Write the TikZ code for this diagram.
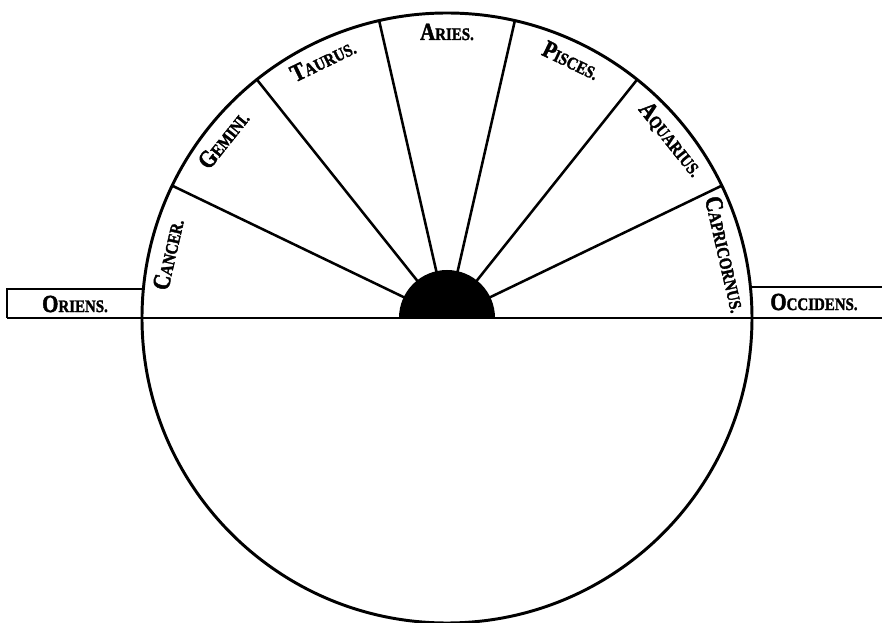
\documentclass[tikz,border=0pt]{standalone}
\usepackage{graphicx}
\usepackage{fontspec}
\setmainfont{Liberation Serif}[BoldFeatures={FakeBold=2}]
\tikzset{
  kor/.style={line width=2.1pt},
  sugar/.style={line width=1.8pt},
  vonal/.style={line width=1.5pt},
  jegy/.style={inner sep=0pt,font=\bfseries},
}
\newcommand{\jel}[2]{\scalebox{0.85}[1]{\bfseries\fontsize{17.5}{17}\selectfont #1\fontsize{12.5}{13}\selectfont #2}}

\begin{document}
\begin{tikzpicture}[x=0.025cm,y=0.025cm]
  \useasboundingbox (-447,-305) rectangle (435,318);
  % kor es horizont
  \draw[kor] (0,0) circle[radius=305];
  \draw[vonal] (-440,0) -- (435,0);
  \draw[vonal] (-305,29) -- (-440,29) -- (-440,0);
  \draw[vonal] (305,31) -- (435,31);
  \node[jegy] (oriens) at (-372,14) {\jel{O}{RIENS.}};
  \node[jegy] (occidens) at (367,16) {\jel{O}{CCIDENS.}};
  % nap
  \fill (-48,0) arc[start angle=180,end angle=0,radius=48] -- cycle;
  \foreach \k in {1,...,6}
    \draw[sugar] ({180*\k/7}:47) -- ({180*\k/7}:305);
  % jegyek
  \foreach \a/\b [count=\i from 0] in {C/ANCER.,G/EMINI.,T/AURUS.,A/RIES.,P/ISCES.,A/QUARIUS.,C/APRICORNUS.}
    \node[jegy,rotate={90-180*(\i+0.5)/7}] (jegy\i) at ({180-180*(\i+0.5)/7}:286) {\jel{\a}{\b}};
\end{tikzpicture}
\end{document}
